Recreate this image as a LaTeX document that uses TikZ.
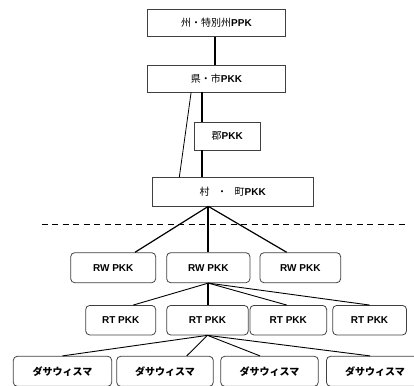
\documentclass[tikz,border=0pt]{standalone}
\usepackage{fontspec}
\setmainfont{Liberation Sans}
\newfontfamily\jp{Noto Sans CJK JP}
\usetikzlibrary{calc}
\begin{document}
\begin{tikzpicture}[x=1pt,y=-1pt,
  sq/.style={draw=black!75, line width=0.8pt, rectangle, inner sep=0pt, font=\fontsize{10}{12}\selectfont},
  rb/.style={sq, rounded corners=4pt},
  spine/.style={line width=2pt},
  mid/.style={line width=1.2pt},
  thinl/.style={line width=0.9pt},
  dashl/.style={line width=1.2pt, dash pattern=on 6pt off 4.5pt}]
\useasboundingbox (0,0) rectangle (414,385);
\clip (0,0) rectangle (414,385);
% upper boxes
\node[sq, minimum width=138.4pt, minimum height=27.4pt] (top) at (216.5,23) {{\jp 州・特別州}\textbf{PPK}};
\node[sq, minimum width=138.4pt, minimum height=26.7pt] (ken) at (216.5,78.7) {{\jp 県・市}\textbf{PKK}};
\node[sq, minimum width=66.7pt, minimum height=28pt] (gun) at (227.3,136) {{\jp 郡}\textbf{PKK}};
\node[sq, minimum width=161pt, minimum height=28.3pt] (son) at (232.8,191.8) {{\jp 村\hspace{0.75em}・\hspace{0.75em}町}\textbf{PKK}};
% RW
\node[rb, minimum width=85pt, minimum height=30pt] (rw1) at (113.2,267.7) {\textbf{RW PKK}};
\node[rb, minimum width=83.3pt, minimum height=30pt] (rw2) at (208.3,267.7) {\textbf{RW PKK}};
\node[rb, minimum width=80.7pt, minimum height=30pt] (rw3) at (300.3,267.7) {\textbf{RW PKK}};
% RT
\node[rb, minimum width=70pt, minimum height=29.5pt] (rt1) at (120.7,320.2) {\textbf{RT PKK}};
\node[rb, minimum width=81.6pt, minimum height=29.5pt] (rt2) at (207.5,320.2) {\textbf{RT PKK}};
\node[rb, minimum width=76.7pt, minimum height=29.5pt] (rt3) at (288.3,320.2) {\textbf{RT PKK}};
\node[rb, minimum width=73.8pt, minimum height=29.5pt] (rt4) at (369.6,320.2) {\textbf{RT PKK}};
% Dasa wisma
\node[rb, minimum width=98.4pt, minimum height=30pt] (d1) at (62.5,371.3) {\jp\bfseries ダサウィスマ};
\node[rb, minimum width=96.6pt, minimum height=30pt] (d2) at (165,371.3) {\jp\bfseries ダサウィスマ};
\node[rb, minimum width=97.6pt, minimum height=30pt] (d3) at (269.5,371.3) {\jp\bfseries ダサウィスマ};
\node[rb, minimum width=97pt, minimum height=30pt] (d4) at (375,371.3) {\jp\bfseries ダサウィスマ};
% dashed separator
\coordinate (dl) at (41.7,224.7);
\coordinate (dr) at (406.7,224.7);
\draw[dashl] (dl) -- (dr);
% connectors
\draw[spine] ([xshift=-1.5pt]top.south) -- ([xshift=-1.5pt]ken.north);
\draw[spine] ([xshift=-25.6pt]gun.north |- ken.south) -- ([xshift=-25.6pt]gun.north);
\draw[spine] ([xshift=-25.6pt]gun.south) -- ([xshift=-25.6pt]gun.south |- son.north);
\draw[line width=0.8pt] ([xshift=-25.4pt]ken.south) -- ([xshift=-53.5pt]son.north);
\draw[spine] (rw2.north |- son.south) -- (rw2.north);
\draw[mid] (rw2.north |- son.south) -- ([xshift=21.8pt]rw1.north);
\draw[mid] (rw2.north |- son.south) -- ([xshift=-13.6pt]rw3.north);
\draw[spine] (rw2.south) -- (rw2.south |- rt2.north);
\draw[thinl] (rw2.south) -- ([xshift=12.6pt]rt1.north);
\draw[thinl] (rw2.south) -- ([xshift=-1.6pt]rt3.north);
\draw[thinl] (rw2.south) -- (rt4.north);
\draw[thinl] (rt2.south) -- (d1.north);
\draw[thinl] (rt2.south) -- ([xshift=21.7pt]d2.north);
\draw[thinl] (rt2.south) -- ([xshift=-9.5pt]d3.north);
\draw[thinl] (rt2.south) -- ([xshift=-5pt]d4.north);
\end{tikzpicture}
\end{document}
